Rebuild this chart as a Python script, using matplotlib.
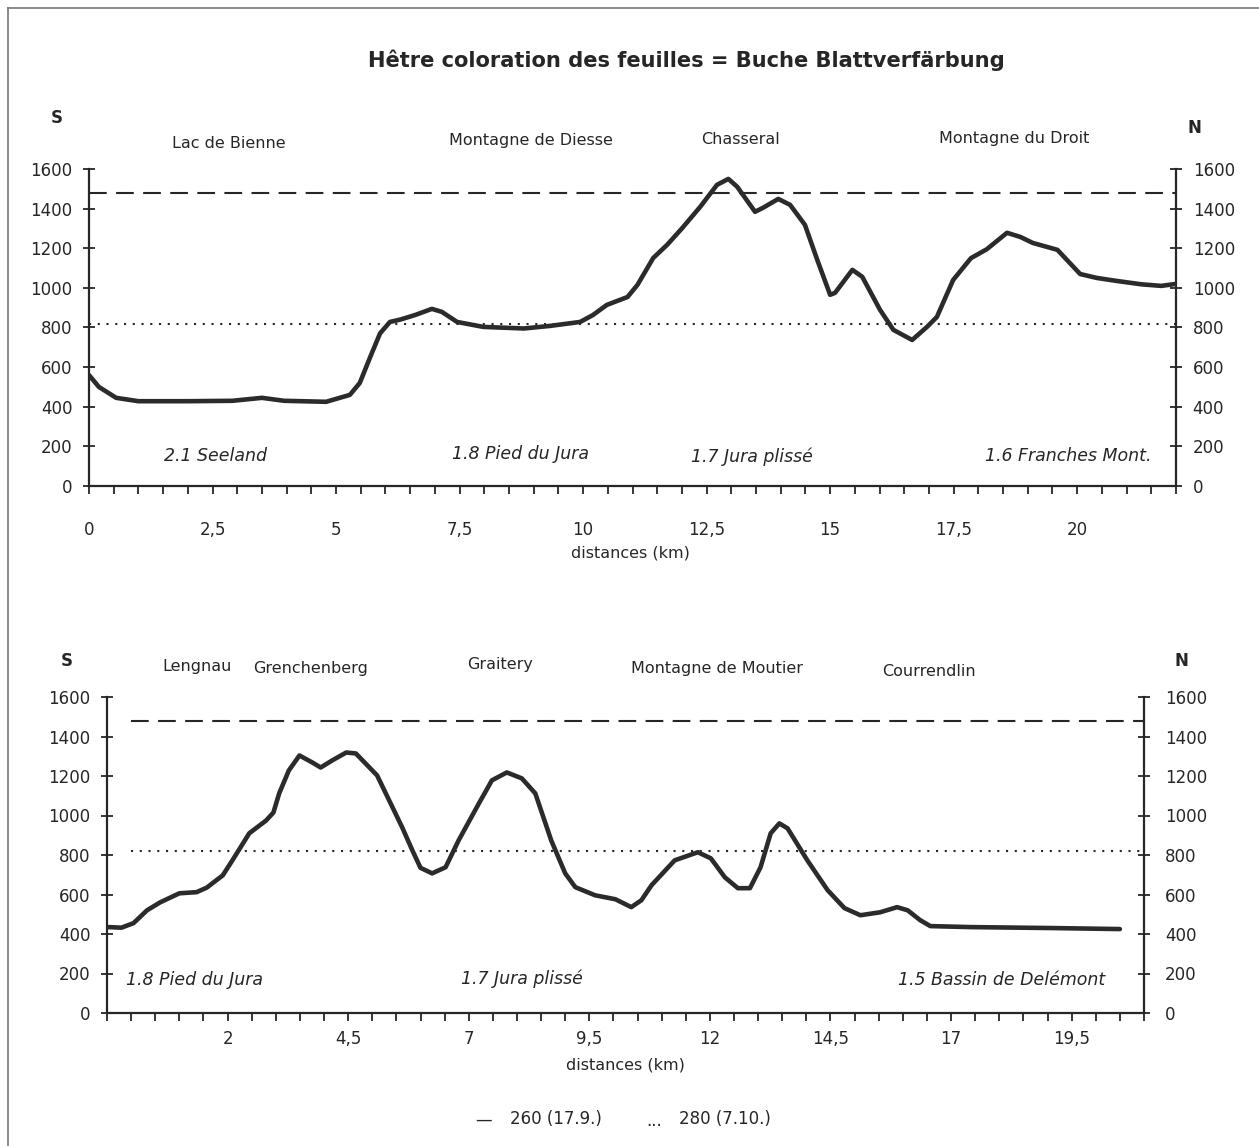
import numpy as np
import matplotlib
matplotlib.use("Agg")
import matplotlib.pyplot as plt
from matplotlib.lines import Line2D

# ---------------- data ----------------
title = "Hêtre coloration des feuilles = Buche Blattverfärbung"

top_km = [0, 0.2, 0.55, 1.0, 2.0, 2.9, 3.5, 3.95, 4.8, 5.28, 5.48, 5.69, 5.89, 6.09,
          6.3, 6.6, 6.94, 7.14, 7.45, 7.98, 8.8, 9.33, 9.94, 10.2, 10.48, 10.9, 11.1,
          11.42, 11.7, 12.0, 12.37, 12.71, 12.94, 13.12, 13.48, 13.64, 13.95, 14.19,
          14.49, 14.74, 15.0, 15.1, 15.45, 15.65, 16.01, 16.28, 16.66, 16.96, 17.16,
          17.49, 17.85, 18.17, 18.58, 18.85, 19.1, 19.6, 20.06, 20.4, 20.8, 21.3, 21.7, 22.0]
top_alt = [560, 500, 445, 428, 428, 430, 445, 430, 425, 460, 520, 650, 770, 828,
           840, 863, 894, 879, 828, 803, 795, 808, 828, 863, 914, 954, 1015,
           1151, 1217, 1300, 1409, 1520, 1550, 1510, 1384, 1404, 1449, 1419,
           1318, 1141, 965, 975, 1091, 1056, 889, 788, 737, 803, 853,
           1040, 1150, 1195, 1278, 1257, 1227, 1192, 1070, 1050, 1035, 1018, 1010, 1020]

bot_km = [-0.48, -0.2, 0.05, 0.33, 0.6, 1.0, 1.36, 1.57, 1.9, 2.1, 2.45, 2.8, 2.95,
          3.07, 3.27, 3.49, 3.76, 3.93, 4.17, 4.46, 4.66, 5.1, 5.62, 5.83, 6.0, 6.24,
          6.52, 6.79, 7.21, 7.48, 7.79, 8.1, 8.38, 8.71, 9.0, 9.21, 9.62, 10.04, 10.37,
          10.58, 10.79, 11.27, 11.75, 12.02, 12.31, 12.58, 12.83, 13.05, 13.26, 13.44,
          13.61, 14.02, 14.44, 14.79, 15.12, 15.53, 15.88, 16.1, 16.36, 16.57, 17.4,
          19.13, 20.5]
bot_alt = [435, 432, 455, 520, 560, 606, 612, 635, 697, 773, 910, 975, 1015,
           1112, 1228, 1304, 1268, 1243, 1279, 1319, 1314, 1203, 940, 824, 735, 707,
           738, 874, 1061, 1178, 1218, 1188, 1112, 874, 707, 637, 596, 576, 536,
           571, 647, 773, 814, 783, 687, 632, 632, 738, 910, 960,
           935, 773, 622, 531, 495, 510, 536, 520, 470, 440, 435,
           430, 425]

level_260 = 1480   # dashed
level_280 = 820    # dotted

y_ticks = [0, 200, 400, 600, 800, 1000, 1200, 1400, 1600]
y_ticklabels = ["0", "200", "400", "600", "800", "1000", "1200", "1400", "1600"]

top_xticks = [0, 2.5, 5, 7.5, 10, 12.5, 15, 17.5, 20]
top_xticklabels = ["0", "2,5", "5", "7,5", "10", "12,5", "15", "17,5", "20"]
bot_xticks = [2, 4.5, 7, 9.5, 12, 14.5, 17, 19.5]
bot_xticklabels = ["2", "4,5", "7", "9,5", "12", "14,5", "17", "19,5"]

top_places = ["Lac de Bienne", "Montagne de Diesse", "Chasseral", "Montagne du Droit"]
top_regions = ["2.1 Seeland", "1.8 Pied du Jura", "1.7 Jura plissé", "1.6 Franches Mont."]
bot_places = ["Lengnau", "Grenchenberg", "Graitery", "Montagne de Moutier", "Courrendlin"]
bot_regions = ["1.8 Pied du Jura", "1.7 Jura plissé", "1.5 Bassin de Delémont"]
legend_labels = ["260 (17.9.)", "280 (7.10.)"]
xlabel = "distances (km)"

# ---------------- style ----------------
W, H = 1259, 1146
plt.rcParams['font.family'] = ['DejaVu Sans']
ink = "#262626"
fig = plt.figure(figsize=(W / 100, H / 100), dpi=100)


def ftext(px, py, s, **kw):
    kw.setdefault('ha', 'center')
    kw.setdefault('va', 'center')
    kw.setdefault('color', ink)
    fig.text(px / W, 1 - py / H, s, **kw)


def axes_px(left, right, top, bottom):
    return fig.add_axes([left / W, 1 - bottom / H, (right - left) / W, (bottom - top) / H])


def style_axes(ax, xlim, major, majlabels, minor_start, minor_end, xpad, lpad, rpad):
    ax.set_xlim(*xlim)
    ax.set_ylim(0, 1600)
    ax.spines['top'].set_visible(False)
    for s in ('left', 'right', 'bottom'):
        ax.spines[s].set_linewidth(1.6)
        ax.spines[s].set_color(ink)
    ax.set_yticks(y_ticks)
    ax.set_yticklabels(y_ticklabels)
    ax.set_xticks(major)
    ax.set_xticklabels(majlabels)
    ax.set_xticks(np.arange(minor_start, minor_end + 0.01, 0.5), minor=True)
    ax.tick_params(axis='x', which='both', direction='out', length=6, width=1.3,
                   color=ink, labelsize=12, labelcolor=ink, pad=xpad)
    ax.tick_params(axis='y', which='both', direction='inout', length=8, width=1.3,
                   color=ink, labelsize=12, labelcolor=ink, left=True, right=True,
                   labelleft=True, labelright=False, pad=lpad)
    ax.patch.set_alpha(0)
    # right-hand scale (same values) with its own padding
    ay = ax.twinx()
    ay.set_ylim(0, 1600)
    ay.set_yticks(y_ticks)
    ay.set_yticklabels(y_ticklabels)
    ay.tick_params(axis='y', direction='inout', length=8, width=1.3, color=ink,
                   labelsize=12, labelcolor=ink, pad=rpad)
    for s in ('top', 'left', 'bottom', 'right'):
        ay.spines[s].set_visible(False)


# ---------------- top panel ----------------
ax1 = axes_px(89, 1176, 169, 486)
ax1.plot(top_km, top_alt, color="#2b2b2b", lw=3.3, solid_joinstyle='round',
         solid_capstyle='round', zorder=3)
ax1.plot([0, 22], [level_260, level_260], color=ink, lw=1.5,
         linestyle=(0, (8.5, 4.5)), zorder=2)
ax1.plot([0, 22], [level_280, level_280], color=ink, lw=1.5,
         linestyle=(0, (1, 3.2)), zorder=2)
style_axes(ax1, (0, 22), top_xticks, top_xticklabels, 0, 22, 19, 8, 8)

# ---------------- bottom panel ----------------
ax2 = axes_px(107, 1144, 697, 1013)
ax2.plot(bot_km, bot_alt, color="#2b2b2b", lw=3.3, solid_joinstyle='round',
         solid_capstyle='round', zorder=3)
ax2.plot([0, 21], [level_260, level_260], color=ink, lw=1.5,
         linestyle=(0, (8.5, 4.5)), zorder=2)
ax2.plot([0, 21], [level_280, level_280], color=ink, lw=1.5,
         linestyle=(0, (1, 3.2)), zorder=2)
style_axes(ax2, (-0.5, 21), bot_xticks, bot_xticklabels, -0.5, 21, 6, 8, 11)

# ---------------- texts ----------------
ftext(686, 60, title, fontsize=15.1, fontweight='bold')

# top panel labels
ftext(57, 118, "S", fontsize=12, fontweight='bold')
ftext(1194, 128, "N", fontsize=12, fontweight='bold')
for (px, py), s in zip([(229, 143), (531, 141), (740, 139), (1014, 139)], top_places):
    ftext(px, py, s, fontsize=11.5)
for (px, py), s in zip([(215, 456), (521, 454), (752, 457), (1068, 456)], top_regions):
    ftext(px, py, s, fontsize=12.5, style='italic')
ftext(630, 553, xlabel, fontsize=11.5)

# bottom panel labels
ftext(67, 661, "S", fontsize=12, fontweight='bold')
ftext(1181, 661, "N", fontsize=12, fontweight='bold')
for (px, py), s in zip([(197, 666), (311, 668), (500, 665), (717, 669), (929, 671)], bot_places):
    ftext(px, py, s, fontsize=11.5)
for (px, py), s in zip([(194, 980), (522, 979), (1002, 980)], bot_regions):
    ftext(px, py, s, fontsize=12.5, style='italic')
ftext(625, 1065, xlabel, fontsize=11.5)

# legend
ftext(484, 1120, "—", fontsize=12)
ftext(556, 1119, legend_labels[0], fontsize=12)
ftext(654, 1126, "···", fontsize=12)
ftext(725, 1119, legend_labels[1], fontsize=12)

# frame lines (top & left of page border)
fig.add_artist(Line2D([8 / W, 1.0], [1 - 8 / H, 1 - 8 / H], color="#777777", lw=1.2,
                      transform=fig.transFigure))
fig.add_artist(Line2D([8 / W, 8 / W], [1 - 8 / H, 0.0], color="#777777", lw=1.2,
                      transform=fig.transFigure))

fig.savefig("out.png", dpi=100, facecolor="white")
